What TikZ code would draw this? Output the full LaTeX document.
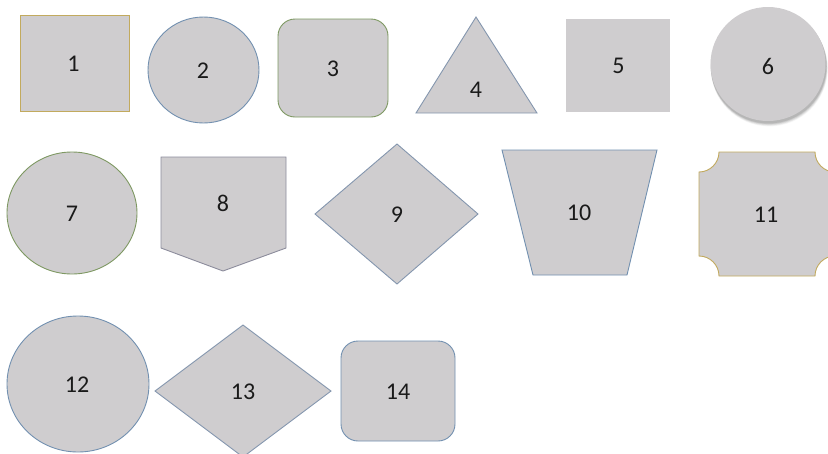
\documentclass[tikz,border=0pt]{standalone}
\usepackage{fontspec}
\setmainfont{Carlito}
\definecolor{shapefill}{HTML}{CFCDCF}
\definecolor{goldline}{HTML}{C2AA5E}
\definecolor{blueline}{HTML}{7290B0}
\definecolor{greenline}{HTML}{7E9862}
\definecolor{grayline}{HTML}{8C8C9C}
\definecolor{slateline}{HTML}{8496AE}
\definecolor{textcol}{HTML}{1A1A1A}
\tikzset{
  shp/.style={fill=shapefill, line width=0.9pt, line join=miter},
  lbl/.style={inner sep=0pt, text=textcol, font=\fontsize{24}{28}\selectfont}
}
\begin{document}
\begin{tikzpicture}[x=1pt,y=-1pt]
\path[use as bounding box] (0,0) rectangle (828,453);
\clip (0,0) rectangle (828,453);
% 1 square
\draw[shp, draw=goldline] (20,15) rectangle (129,111);
% 2 circle
\draw[shp, draw=blueline] (203.5,70) ellipse [x radius=55.5, y radius=53];
% 3 rounded rectangle
\draw[shp, draw=greenline, rounded corners=17pt] (278,19) rectangle (388,117);
% 4 triangle
\draw[shp, draw=slateline] (476,17) -- (537,113) -- (416,113) -- cycle;
% 5 plain rectangle
\fill[shapefill] (566,19) rectangle (670,112);
% 6 circle with soft shadow
\foreach \o/\a in {4.5/0.03,4/0.04,3.5/0.05,3/0.06,2.5/0.07,2/0.08}{
  \fill[black, opacity=\a] (768+\o*0.3,64+\o) ellipse [x radius=57.5+\o*0.2, y radius=57+\o*0.2];
}
\fill[shapefill] (768,64) ellipse [x radius=57.5, y radius=57];
% 7 circle
\draw[shp, draw=greenline] (72,213) ellipse [x radius=65, y radius=61];
% 8 pentagon
\draw[shp, draw=grayline] (161,157) -- (286,157) -- (286,248) -- (223,271) -- (161,248) -- cycle;
% 9 diamond
\draw[shp, draw=slateline] (315,214) -- (397,144) -- (478,214) -- (397,284) -- cycle;
% 10 trapezoid
\draw[shp, draw=blueline] (502,150) -- (657,150) -- (627,275) -- (533,275) -- cycle;
% 11 plaque
\draw[shp, draw=goldline] (719,152) -- (815,152)
  .. controls (815,163) and (824,172) .. (835,172) -- (835,256)
  .. controls (824,256) and (815,265) .. (815,276) -- (719,276)
  .. controls (719,265) and (710,256) .. (699,256) -- (699,172)
  .. controls (710,172) and (719,163) .. (719,152) -- cycle;
% 12 circle
\draw[shp, draw=blueline] (78,384) ellipse [x radius=71, y radius=68];
% 13 diamond
\draw[shp, draw=slateline] (155,391) -- (243,325) -- (331,391) -- (243,457) -- cycle;
% 14 rounded rectangle
\draw[shp, draw=blueline, rounded corners=17pt] (341,341) rectangle (455,441);
% labels
\node[lbl] (t1) at (73.5,64) {1};
\node[lbl] (t2) at (203,70.5) {2};
\node[lbl] (t3) at (333,68.5) {3};
\node[lbl] (t4) at (476,89.5) {4};
\node[lbl] (t5) at (618.5,66) {5};
\node[lbl] (t6) at (768,66) {6};
\node[lbl] (t7) at (72,213.5) {7};
\node[lbl] (t8) at (223,203) {8};
\node[lbl] (t9) at (397,214.5) {9};
\node[lbl] (t10) at (579,213) {10};
\node[lbl] (t11) at (766,215) {11};
\node[lbl] (t12) at (77,385) {12};
\node[lbl] (t13) at (243,392) {13};
\node[lbl] (t14) at (398,392) {14};
\end{tikzpicture}
\end{document}
